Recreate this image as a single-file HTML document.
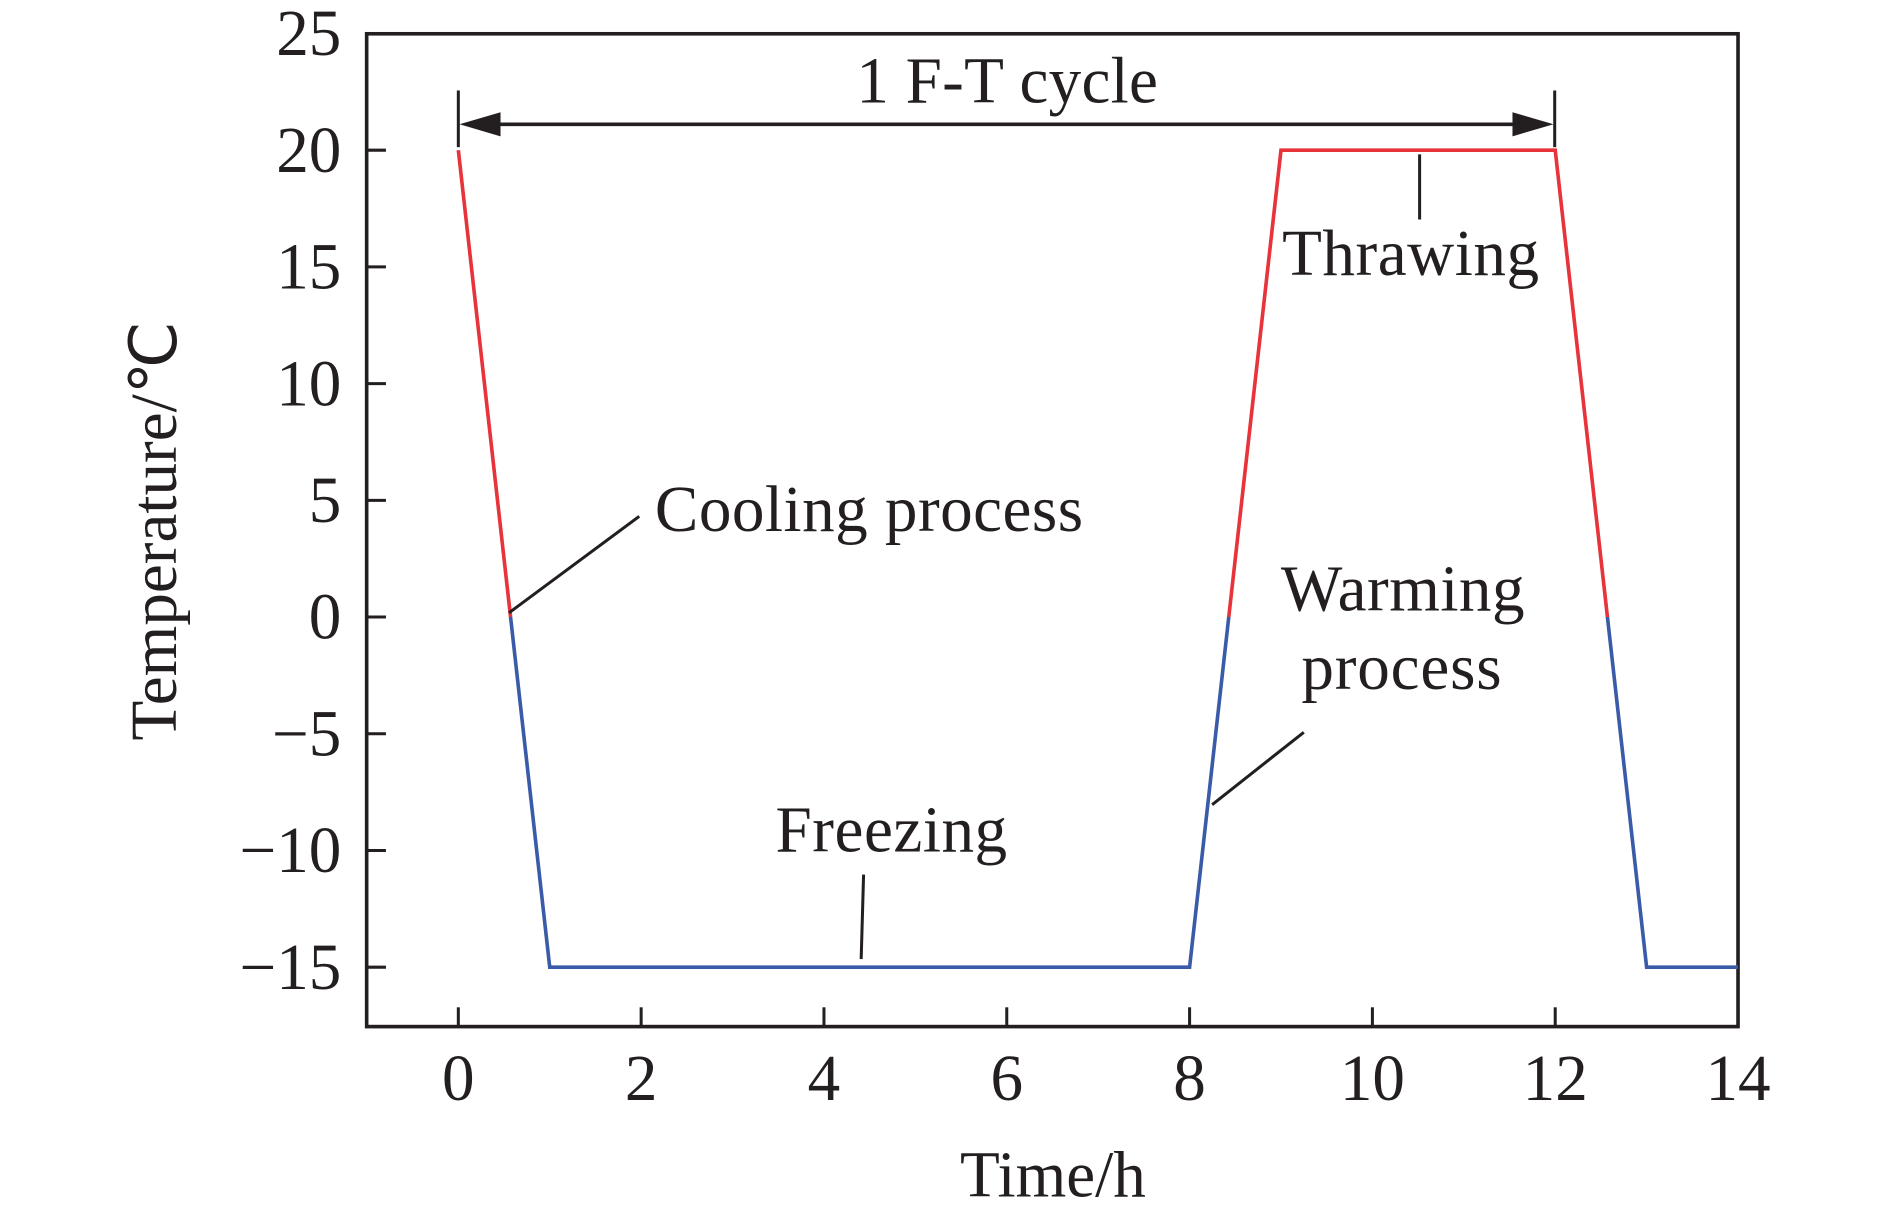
<!DOCTYPE html>
<html><head><meta charset="utf-8"><style>
html,body{margin:0;padding:0;background:#fff;}
svg{display:block;}
text{font-family:"Liberation Serif",serif;fill:#231f20;}
</style></head><body>
<svg id="chart" width="1890" height="1216" viewBox="0 0 1567 1008" preserveAspectRatio="none" xmlns="http://www.w3.org/2000/svg">
<defs>
<clipPath id="above"><rect x="0" y="0" width="1567" height="511.5"/></clipPath>
<clipPath id="below"><rect x="0" y="511.5" width="1567" height="500"/></clipPath>
</defs>
<g id="axes"></g>
<g id="series"></g>
<g id="annot">
  <line x1="380" y1="75" x2="380" y2="122" stroke="#231f20" stroke-width="2.5"/>
  <line x1="1289" y1="75" x2="1289" y2="122" stroke="#231f20" stroke-width="2.5"/>
  <line x1="410" y1="103" x2="1259" y2="103" stroke="#231f20" stroke-width="3"/>
  <polygon points="381,103 415,93 415,113" fill="#231f20"/>
  <polygon points="1288,103 1254,93 1254,113" fill="#231f20"/>
  <text x="835" y="85" font-size="54" text-anchor="middle" textLength="250">1 F-T cycle</text>
  <line x1="422" y1="508" x2="530" y2="428" stroke="#231f20" stroke-width="2.5"/>
  <text x="543" y="440" font-size="54" textLength="355">Cooling process</text>
  <line x1="716" y1="725" x2="714" y2="795" stroke="#231f20" stroke-width="2.5"/>
  <text x="643" y="706" font-size="54" textLength="192">Freezing</text>
  <line x1="1177" y1="128" x2="1177" y2="182" stroke="#231f20" stroke-width="2.5"/>
  <text x="1063" y="228" font-size="54" textLength="213">Thrawing</text>
  <line x1="1081" y1="607" x2="1005" y2="667" stroke="#231f20" stroke-width="2.5"/>
  <text x="1062" y="506" font-size="54" textLength="202">Warming</text>
  <text x="1079" y="571" font-size="54" textLength="166">process</text>
</g>
</svg>
<script>
const times = [0, 1, 8, 9, 12, 13, 14];
const temps = [20, -15, -15, 20, 20, -15, -15];
const xTicks = [0, 2, 4, 6, 8, 10, 12, 14];
const yTicks = [25, 20, 15, 10, 5, 0, -5, -10, -15];
const NS = "http://www.w3.org/2000/svg";
const X0 = 380, XS = (1441 - 380) / 14;
const Y0 = 511.5, YS = (802 - 28) / 40;
function xs(v){ return X0 + v * XS; }
function ys(v){ return Y0 - v * YS; }
function mk(tag, attrs, parent){ const e = document.createElementNS(NS, tag); for (const k in attrs) e.setAttribute(k, attrs[k]); parent.appendChild(e); return e; }
const axes = document.getElementById('axes');
const frame = mk('rect', {x:304, y:28, width:1137, height:823, fill:'none', stroke:'#231f20', 'stroke-width':3}, axes);


xTicks.forEach(v => {
  const t = mk('line', {x1:xs(v), x2:xs(v), y1:851, y2:835, stroke:'#231f20', 'stroke-width':2.5}, axes);
  
  
  const l = mk('text', {x:xs(v), y:912, 'font-size':54, 'text-anchor':'middle'}, axes);
  l.textContent = v;
  
  
});
yTicks.forEach(v => {
  const t = mk('line', {x1:304, x2:320, y1:ys(v), y2:ys(v), stroke:'#231f20', 'stroke-width':2.5}, axes);
  
  
  const l = mk('text', {x:283, y:ys(v)+18, 'font-size':54, 'text-anchor':'end'}, axes);
  l.textContent = v < 0 ? '\u2212' + Math.abs(v) : v;
  
  
});
const xt = mk('text', {x:873, y:992, 'font-size':54, 'text-anchor':'middle'}, axes);
xt.textContent = 'Time/h';


const yt = mk('text', {x:0, y:0, 'font-size':54, 'text-anchor':'middle', transform:'translate(146,440) rotate(-90)'}, axes);
yt.textContent = 'Temperature/\u2103';


const series = document.getElementById('series');
const pts = times.map((t, i) => xs(t) + ',' + ys(temps[i])).join(' ');
const red = mk('polyline', {points:pts, fill:'none', stroke:'#e8333a', 'stroke-width':3, 'clip-path':'url(#above)'}, series);


const blue = mk('polyline', {points:pts, fill:'none', stroke:'#3a5ba8', 'stroke-width':3, 'clip-path':'url(#below)'}, series);


</script>
</body></html>
